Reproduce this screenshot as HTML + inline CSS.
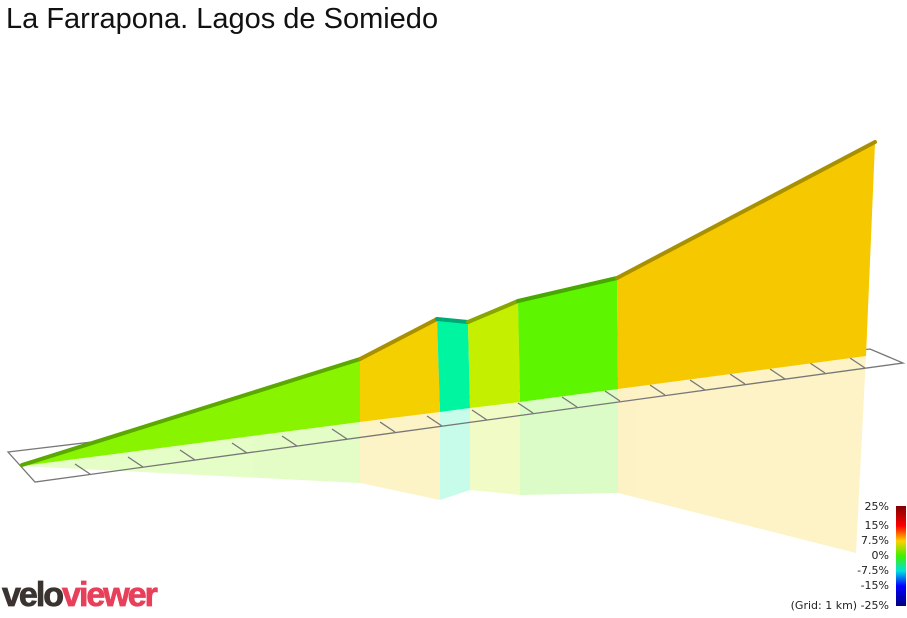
<!DOCTYPE html>
<html><head><meta charset="utf-8"><style>
body{margin:0;background:#fff;width:907px;height:613px;overflow:hidden;font-family:"Liberation Sans",sans-serif;}
</style></head><body>
<svg width="907" height="613" viewBox="0 0 907 613" xmlns="http://www.w3.org/2000/svg">
<text x="6" y="28" font-size="29" fill="#111" font-family="Liberation Sans, sans-serif">La Farrapona. Lagos de Somiedo</text>
<g opacity="0.22">
<polygon points="22,466 360,422 360,483" fill="#88f400"/>
<polygon points="360,422 440,412 440,500 360,483" fill="#f5d000"/>
<polygon points="440,412 470,408 470,490 440,500" fill="#00f5a0"/>
<polygon points="470,408 520,402 520,495 470,490" fill="#c4f000"/>
<polygon points="520,402 618,389 618,493 520,495" fill="#5ef500"/>
<polygon points="618,389 866,356 856,553 618,493" fill="#f5c800"/>
</g>
<g stroke="#777" stroke-width="1.3" fill="none">
<polygon points="8,452 870,349 903,363 35,482"/>
<path d="M90,474 l-15,-10 M143,467 l-15,-10 M195,460 l-15,-10 M247,453 l-15,-10 M297,446 l-15,-10 M347,439 l-15,-10 M395,432 l-15,-10 M442,426 l-15,-10 M487,420 l-15,-10 M533,413 l-15,-10 M577,407 l-15,-10 M620,401 l-15,-10 M665,395 l-15,-10 M705,390 l-15,-10 M745,384 l-15,-10 M785,379 l-15,-10 M825,373 l-15,-10 M865,368 l-15,-10"/>
</g>
<polygon points="22,466 360,360 360,422" fill="#88f400"/>
<polygon points="360,360 437,320 440,412 360,422" fill="#f5d000"/>
<polygon points="437,320 468,323 470,408 440,412" fill="#00f5a0"/>
<polygon points="468,323 518,302 520,402 470,408" fill="#c4f000"/>
<polygon points="518,302 617,279 618,389 520,402" fill="#5ef500"/>
<polygon points="617,279 875,143 866,356 618,389" fill="#f5c800"/>
<g stroke-width="4" stroke-linecap="round" fill="none">
<path d="M22,465 L360,359" stroke="#5aa800"/>
<path d="M360,359 L437,319" stroke="#a89000"/>
<path d="M437,319 L468,322" stroke="#00a878"/>
<path d="M468,322 L518,301" stroke="#8aa400"/>
<path d="M518,301 L617,278" stroke="#48a800"/>
<path d="M617,278 L875,142" stroke="#a89000"/>
</g>
<defs><linearGradient id="g" x1="0" y1="0" x2="0" y2="1">
<stop offset="0" stop-color="#800000"/><stop offset="0.2" stop-color="#ff0000"/><stop offset="0.35" stop-color="#ffd000"/><stop offset="0.5" stop-color="#40f000"/><stop offset="0.65" stop-color="#00e0e0"/><stop offset="0.8" stop-color="#0000ff"/><stop offset="1" stop-color="#000080"/></linearGradient></defs>
<rect x="896" y="506" width="10" height="100" fill="url(#g)"/>
<g font-size="11" fill="#222" text-anchor="end" font-family="DejaVu Sans, sans-serif">
<text x="889" y="510">25%</text><text x="889" y="529">15%</text><text x="889" y="544">7.5%</text><text x="889" y="559">0%</text><text x="889" y="574">-7.5%</text><text x="889" y="589">-15%</text><text x="889" y="609">(Grid: 1 km) -25%</text>
</g>
<text x="2" y="606" font-size="34" font-weight="bold" letter-spacing="-2" stroke-width="0.8" font-family="Liberation Sans, sans-serif"><tspan fill="#3a3330" stroke="#3a3330">velo</tspan><tspan fill="#e8405a" stroke="#e8405a">viewer</tspan></text>
</svg>
</body></html>
